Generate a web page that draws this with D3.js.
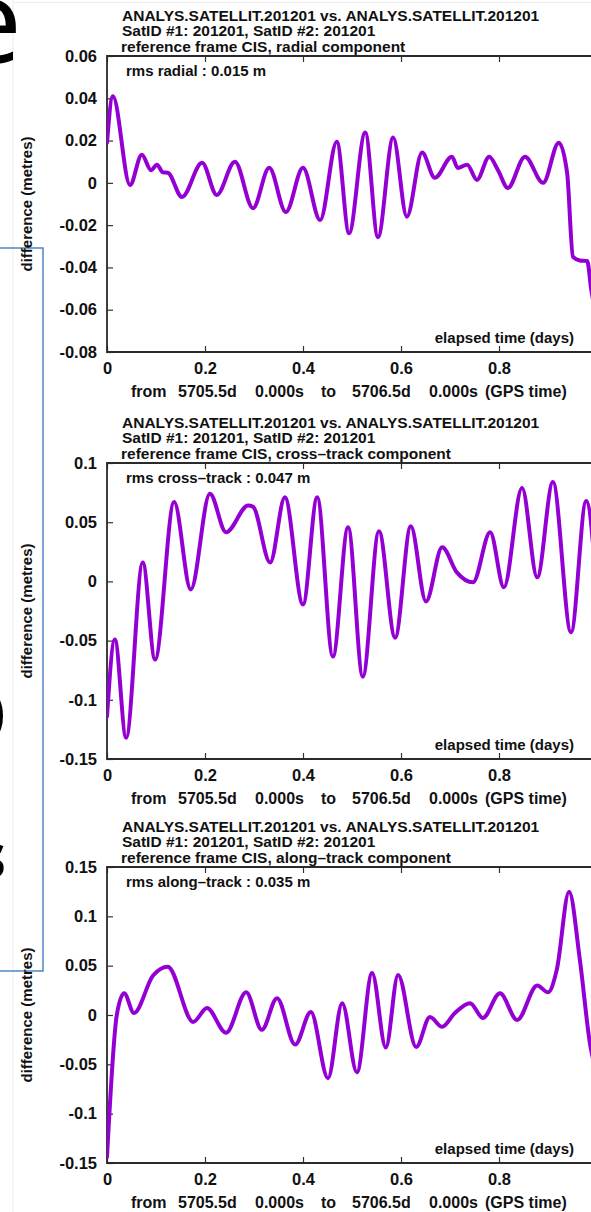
<!DOCTYPE html>
<html>
<head>
<meta charset="utf-8">
<script src="https://cdn.jsdelivr.net/npm/d3@7"></script>
<style>
  html, body { margin: 0; padding: 0; background: #fff; }
  svg { display: block; }
  text { font-family: "Liberation Sans", Arial, Helvetica, sans-serif; font-weight: bold; fill: #111; }
</style>
</head>
<body>
<script>
// ---------------- data ----------------
const xTicks = [0, 0.2, 0.4, 0.6, 0.8, 1.0];

const titleLine1 = "ANALYS.SATELLIT.201201 vs. ANALYS.SATELLIT.201201";
const titleLine2 = "SatID #1: 201201, SatID #2: 201201";
const componentTitles = [
  "reference frame CIS, radial component",
  "reference frame CIS, cross\u2013track component",
  "reference frame CIS, along\u2013track component"
];
const rmsLabels = [
  "rms radial : 0.015 m",
  "rms cross\u2013track : 0.047 m",
  "rms along\u2013track : 0.035 m"
];
const yDomains = [[-0.08, 0.06], [-0.15, 0.1], [-0.15, 0.15]];
const yTicks = [
  [-0.08, -0.06, -0.04, -0.02, 0, 0.02, 0.04, 0.06],
  [-0.15, -0.1, -0.05, 0, 0.05, 0.1],
  [-0.15, -0.1, -0.05, 0, 0.05, 0.1, 0.15]
];

// elapsed time (days) and difference (metres)
const radialT = [0, 0.012, 0.047, 0.071, 0.090, 0.102, 0.114, 0.124, 0.153, 0.194, 0.224, 0.261, 0.298, 0.331, 0.365, 0.400, 0.435, 0.469, 0.494, 0.527, 0.553, 0.584, 0.612, 0.643, 0.669, 0.704, 0.716, 0.735, 0.755, 0.780, 0.798, 0.818, 0.853, 0.890, 0.922, 0.939, 0.951, 0.965, 0.980, 0.988, 1.0];
const radialV = [0.019, 0.041, -0.001, 0.0133, 0.006, 0.0086, 0.005, 0.0048, -0.0067, 0.0095, -0.0057, 0.010, -0.012, 0.0071, -0.0138, 0.0071, -0.0176, 0.0195, -0.0238, 0.0238, -0.0257, 0.0214, -0.016, 0.0143, 0.0024, 0.0124, 0.007, 0.0086, 0.0014, 0.0124, 0.006, -0.0024, 0.0124, 0.0, 0.019, 0.0048, -0.035, -0.0367, -0.037, -0.05, -0.065];

const crossT = [0, 0.016, 0.039, 0.073, 0.098, 0.137, 0.171, 0.210, 0.243, 0.288, 0.298, 0.333, 0.363, 0.400, 0.429, 0.461, 0.492, 0.522, 0.555, 0.588, 0.620, 0.651, 0.684, 0.714, 0.747, 0.782, 0.810, 0.847, 0.878, 0.910, 0.947, 0.978, 1.0];
const crossV = [-0.114, -0.049, -0.132, 0.016, -0.066, 0.067, -0.0068, 0.074, 0.0415, 0.064, 0.063, 0.016, 0.071, -0.0195, 0.071, -0.0635, 0.0458, -0.0805, 0.0424, -0.0475, 0.0466, -0.017, 0.0288, 0.0076, -0.0008, 0.0415, -0.005, 0.0788, 0.0034, 0.0839, -0.043, 0.068, -0.01];

const alongT = [0, 0.020, 0.035, 0.055, 0.094, 0.124, 0.176, 0.204, 0.243, 0.284, 0.316, 0.347, 0.384, 0.416, 0.451, 0.480, 0.510, 0.541, 0.569, 0.594, 0.631, 0.659, 0.684, 0.710, 0.741, 0.767, 0.802, 0.837, 0.878, 0.900, 0.918, 0.943, 0.965, 0.986, 1.0];
const alongV = [-0.144, 0.0, 0.022, 0.002, 0.040, 0.049, -0.007, 0.007, -0.018, 0.023, -0.015, 0.017, -0.030, 0.003, -0.064, 0.012, -0.058, 0.0426, -0.033, 0.0405, -0.0325, -0.002, -0.012, 0.002, 0.012, -0.003, 0.022, -0.005, 0.030, 0.023, 0.046, 0.125, 0.056, -0.03, -0.06];

const seriesT = [radialT, crossT, alongT];
const seriesV = [radialV, crossV, alongV];

// ---------------- layout ----------------
const W = 591, H = 1212;
const plotLeft = 107, plotRight = 597;
const panelTops = [56, 463, 867];
const panelBottoms = [352, 759, 1163];
const lineColor = "#9400d3";

const svg = d3.select("body").append("svg")
  .attr("width", W).attr("height", H)
  .attr("viewBox", `0 0 ${W} ${H}`);

// background slide remnants
svg.append("line").attr("x1", 13).attr("x2", 13).attr("y1", 0).attr("y2", H)
  .attr("stroke", "#ececec").attr("stroke-width", 1);
svg.append("line").attr("x1", 13).attr("x2", W).attr("y1", 2.5).attr("y2", 2.5)
  .attr("stroke", "#ececec").attr("stroke-width", 1);

const bigFont = "'Open Sans', 'DejaVu Sans', sans-serif";
svg.append("text").text("e").attr("x", 22).attr("y", 63).attr("text-anchor", "end")
  .style("font-family", bigFont).style("font-weight", "normal").style("font-size", "118px").style("fill", "#000");
svg.append("text").text("o").attr("x", 9).attr("y", 746).attr("text-anchor", "end")
  .style("font-family", bigFont).style("font-weight", "normal").style("font-size", "112px").style("fill", "#000");
svg.append("text").text("s").attr("x", 6).attr("y", 878).attr("text-anchor", "end")
  .style("font-family", bigFont).style("font-weight", "bold").style("font-size", "62px").style("fill", "#000");

svg.append("rect").attr("x", -5).attr("y", 248).attr("width", 48).attr("height", 723)
  .attr("fill", "none").attr("stroke", "#4f86c6").attr("stroke-width", 1.5);

const x = d3.scaleLinear().domain([0, 1]).range([plotLeft, plotRight]);
const yFmt = d => d === 0 ? "0" : String(+d.toFixed(2));
const xFmt = d => d === 0 ? "0" : String(+d.toFixed(1));

for (let p = 0; p < 3; p++) {
  const top = panelTops[p], bottom = panelBottoms[p];
  const y = d3.scaleLinear().domain(yDomains[p]).range([bottom, top]);
  const g = svg.append("g");

  // clip
  const clipId = "clip" + p;
  svg.append("clipPath").attr("id", clipId).append("rect")
    .attr("x", plotLeft).attr("y", top).attr("width", plotRight - plotLeft).attr("height", bottom - top);

  // titles
  const tg = g.append("g").style("font-size", "15.5px");
  tg.append("text").attr("x", 122).attr("y", top - 35.5).text(titleLine1);
  tg.append("text").attr("x", 122).attr("y", top - 19.8).text(titleLine2);
  tg.append("text").attr("x", 121).attr("y", top - 4.2).text(componentTitles[p]);

  // left axis
  const ya = g.append("g").attr("transform", `translate(${plotLeft},0)`)
    .call(d3.axisLeft(y).tickValues(yTicks[p]).tickFormat(yFmt).tickSizeInner(-6).tickSizeOuter(0).tickPadding(10));
  ya.select(".domain").remove();
  ya.selectAll("text").style("font-size", "16.5px").style("font-family", null).attr("fill", "#111");
  ya.selectAll("line").attr("stroke", "#333").attr("stroke-width", 1.2);

  // bottom axis
  const xa = g.append("g").attr("transform", `translate(0,${bottom})`)
    .call(d3.axisBottom(x).tickValues(xTicks).tickFormat(xFmt).tickSizeInner(-6).tickSizeOuter(0).tickPadding(10));
  xa.select(".domain").remove();
  xa.selectAll("text").style("font-size", "16.5px").style("font-family", null).attr("fill", "#111");
  xa.selectAll("line").attr("stroke", "#333").attr("stroke-width", 1.2);

  // top axis (ticks only)
  const xt = g.append("g").attr("transform", `translate(0,${top})`)
    .call(d3.axisTop(x).tickValues(xTicks).tickFormat("").tickSizeInner(-6).tickSizeOuter(0));
  xt.select(".domain").remove();
  xt.selectAll("line").attr("stroke", "#333").attr("stroke-width", 1.2);

  // frame
  g.append("path")
    .attr("d", `M${plotRight},${top}H${plotLeft}V${bottom}H${plotRight}`)
    .attr("fill", "none").attr("stroke", "#2a2a2a").attr("stroke-width", 1.8);

  // data line
  const pts = seriesT[p].map((t, i) => [t, seriesV[p][i]]);
  g.append("path").datum(pts)
    .attr("clip-path", `url(#${clipId})`)
    .attr("fill", "none").attr("stroke", lineColor).attr("stroke-width", 4)
    .attr("stroke-linejoin", "round").attr("stroke-linecap", "round")
    .attr("d", d3.line().x(d => x(d[0])).y(d => y(d[1])).curve(d3.curveMonotoneX));

  // rms label
  g.append("text").attr("x", 126).attr("y", top + 20).style("font-size", "15px").text(rmsLabels[p]);

  // x label inside
  g.append("text").attr("x", 574).attr("y", bottom - 9).attr("text-anchor", "end")
    .style("font-size", "15px").text("elapsed time (days)");

  // from ... line
  const fg = g.append("text").attr("y", bottom + 45).style("font-size", "16px");
  const pieces = [["from", 131], ["5705.5d", 178], ["0.000s", 255], ["to", 321], ["5706.5d", 352], ["0.000s", 429], ["(GPS time)", 485]];
  pieces.forEach(([s, px]) => fg.append("tspan").attr("x", px).text(s));

  // y label
  g.append("text").attr("transform", `translate(32,${(top + bottom) / 2}) rotate(-90)`)
    .attr("text-anchor", "middle").style("font-size", "15px").text("difference (metres)");
}
</script>
</body>
</html>
